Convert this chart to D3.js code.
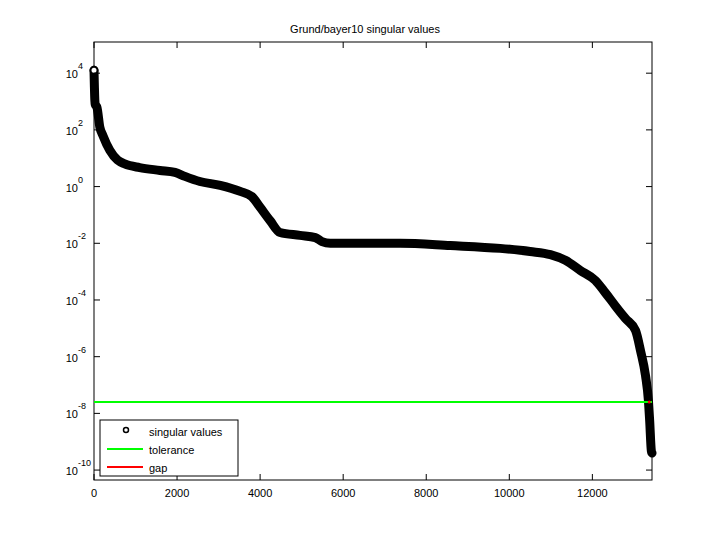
<!DOCTYPE html><html><head><script src="https://cdn.jsdelivr.net/npm/d3@7"></script>
<style>body{margin:0;background:#fff}text{font-family:"Liberation Sans",Arial,sans-serif;fill:#000}</style></head><body>
<svg id="c" width="720" height="540"></svg>
<script>
const idx=[0,10,20,30,50,70,140,215,380,570,740,1100,1590,1950,2190,2550,3040,3520,3800,4000,4240,4480,4960,5330,5490,5690,7370,8580,9780,10500,10990,11350,11710,12070,12310,12550,12800,13040,13160,13280,13350,13380,13420,13436];
const logv=[4.1,3.5,3.05,2.9,2.85,2.8,2.1,1.8,1.28,0.93,0.8,0.67,0.57,0.5,0.36,0.18,0.04,-0.17,-0.35,-0.73,-1.2,-1.62,-1.72,-1.8,-1.94,-2.0,-2.0,-2.08,-2.18,-2.29,-2.4,-2.6,-2.96,-3.31,-3.74,-4.2,-4.66,-5.08,-5.79,-6.67,-7.55,-8.26,-9.32,-9.4];
const tolerance=2.5e-8, gapIndex=13370;
const xTicks=[0,2000,4000,6000,8000,10000,12000];
const yExp=[4,2,0,-2,-4,-6,-8,-10];
const svg=d3.select("#c");
const L=94,R=652,T=42,B=480;
const x=d3.scaleLinear().domain([0,13436]).range([L,R]);
const y=d3.scaleLog().domain([Math.pow(10,-10.35),Math.pow(10,5.1)]).range([B,T]);
const data=idx.map((d,i)=>[d,Math.pow(10,logv[i])]);
svg.append("rect").attr("x",L).attr("y",T).attr("width",R-L).attr("height",B-T).attr("fill","none").attr("stroke","#000");
svg.append("path").datum(data).attr("d",d3.line().curve(d3.curveMonotoneX).x(d=>x(d[0])).y(d=>y(d[1]))).attr("fill","none").attr("stroke","#000").attr("stroke-width",9).attr("stroke-linejoin","round").attr("stroke-linecap","round");
svg.append("circle").attr("cx",x(idx[0])).attr("cy",y(data[0][1])).attr("r",3.5).attr("fill","#fff").attr("stroke","#000").attr("stroke-width",2);
svg.append("line").attr("x1",L).attr("x2",R).attr("y1",y(tolerance)).attr("y2",y(tolerance)).attr("stroke","#00ff00").attr("stroke-width",2);
svg.append("circle").attr("cx",x(gapIndex)).attr("cy",y(tolerance)).attr("r",1.5).attr("fill","#f00");
const xa=svg.append("g");
xTicks.forEach(t=>{const px=x(t);
 xa.append("line").attr("x1",px).attr("x2",px).attr("y1",B).attr("y2",B-6).attr("stroke","#000");
 xa.append("line").attr("x1",px).attr("x2",px).attr("y1",T).attr("y2",T+6).attr("stroke","#000");
 xa.append("text").attr("x",px).attr("y",B+17).attr("text-anchor","middle").attr("font-size",11).text(t);});
yExp.forEach(e=>{const py=y(Math.pow(10,e));
 xa.append("line").attr("x1",L).attr("x2",L+6).attr("y1",py).attr("y2",py).attr("stroke","#000");
 xa.append("line").attr("x1",R).attr("x2",R-6).attr("y1",py).attr("y2",py).attr("stroke","#000");
 xa.append("text").attr("x",78).attr("y",py+5).attr("text-anchor","end").attr("font-size",11).text("10");
 xa.append("text").attr("x",78).attr("y",py-4).attr("font-size",9).text(e);});
svg.append("text").attr("x",365).attr("y",33).attr("text-anchor","middle").attr("font-size",11).text("Grund/bayer10 singular values");
const lg=svg.append("g");
lg.append("rect").attr("x",100).attr("y",420).attr("width",138).attr("height",56).attr("fill","#fff").attr("stroke","#000");
lg.append("circle").attr("cx",126).attr("cy",430).attr("r",2.5).attr("fill","none").attr("stroke","#000").attr("stroke-width",1.5);
lg.append("line").attr("x1",107).attr("x2",143).attr("y1",449).attr("y2",449).attr("stroke","#00ff00").attr("stroke-width",2);
lg.append("line").attr("x1",107).attr("x2",143).attr("y1",467).attr("y2",467).attr("stroke","#f00").attr("stroke-width",2);
[["singular values",436],["tolerance",454],["gap",472]].forEach(([s,yy])=>lg.append("text").attr("x",149).attr("y",yy).attr("font-size",11).text(s));
</script></body></html>
